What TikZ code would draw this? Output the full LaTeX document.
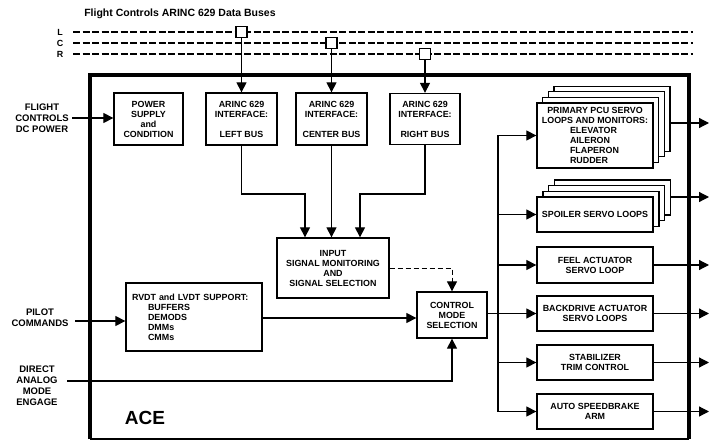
\documentclass[tikz,border=0pt]{standalone}
\usepackage{fontspec}
\setmainfont{Liberation Sans}
\usetikzlibrary{arrows.meta}
\newcommand\boxfont{\fontsize{8.9}{10}\selectfont\bfseries}
\newcommand\sidefont{\fontsize{9.5}{11}\selectfont\bfseries}
\newcommand\titlefont{\fontsize{10.5}{12}\selectfont\bfseries}
\begin{document}
\begin{tikzpicture}[x=1pt,y=-1pt,
  box/.style={draw,line width=1.3pt,fill=white,inner sep=2pt,align=center,font=\boxfont},
  layer/.style={draw,line width=1.3pt,fill=white,inner sep=0pt},
  sq/.style={draw,line width=1.5pt,fill=white,minimum size=11pt,inner sep=0pt},
  side/.style={align=center,font=\sidefont,inner sep=1pt},
  bus/.style={line width=1.9pt,dash pattern=on 7pt off 2.5pt},
  conn/.style={line width=1.2pt},
  arr/.style={conn,-{Triangle[length=10pt,width=10pt]}},
  dsh/.style={line width=0.9pt,dash pattern=on 5pt off 3pt,-{Triangle[length=10pt,width=10pt]}}]
\useasboundingbox (0,0) rectangle (709,441);

% title and buses
\node[font=\titlefont] (title) at (180,14) {Flight Controls ARINC 629 Data Buses};
\node[font=\boxfont] (labL) at (60,32) {L};
\node[font=\boxfont] (labC) at (60,43) {C};
\node[font=\boxfont] (labR) at (60,54) {R};
\coordinate (bs) at (73,0);
\coordinate (be) at (693,0);
\draw[bus] (labL -| bs) -- (labL -| be);
\draw[bus] (labC -| bs) -- (labC -| be);
\draw[bus] (labR -| bs) -- (labR -| be);

% ACE frame
\draw[line width=4pt] (90,439) -- (90,75) -- (689,75) -- (689,439);
\draw[line width=1.2pt] (90,439) -- (689,439);
\node[font=\fontsize{19}{22}\selectfont\bfseries] (ace) at (145,418) {ACE};

% top row
\node[box,minimum width=69pt,minimum height=52pt] (pwr) at (148.5,119) {POWER\\SUPPLY\\and\\CONDITION};
\node[box,minimum width=71pt,minimum height=52pt] (ifL) at (241.5,119) {ARINC 629\\INTERFACE:\\[10pt]LEFT BUS};
\node[box,minimum width=71pt,minimum height=52pt] (ifC) at (331.5,119) {ARINC 629\\INTERFACE:\\[10pt]CENTER BUS};
\node[box,minimum width=70pt,minimum height=51pt] (ifR) at (425,119) {ARINC 629\\INTERFACE:\\[10pt]RIGHT BUS};

% bus couplers
\node[sq] (sqL) at (ifL.north |- labL) {};
\node[sq] (sqC) at (ifC.north |- labC) {};
\node[sq] (sqR) at (ifR.north |- labR) {};
\draw[arr] (sqL.south) -- (ifL.north);
\draw[arr] (sqC.south) -- (ifC.north);
\draw[arr] (sqR.south) -- (ifR.north);

% input monitoring
\node[box,minimum width=112pt,minimum height=60pt] (inp) at (333,268) {INPUT\\SIGNAL MONITORING\\AND\\SIGNAL SELECTION};
\coordinate (jy) at (0,194);
\draw[arr] (ifL.south) -- (ifL.south |- jy) -| ([xshift=-28pt]inp.north);
\draw[arr] (ifC.south) -- (ifC.south |- inp.north);
\draw[arr] (ifR.south) -- (ifR.south |- jy) -| ([xshift=27pt]inp.north);

% control mode selection
\node[box,minimum width=70pt,minimum height=46pt] (ctl) at (452,315) {CONTROL\\MODE\\SELECTION};
\draw[dsh] (inp.east) -| (ctl.north);

% RVDT
\node[box,minimum width=136pt,minimum height=68pt,text width=124pt,inner sep=6pt,align=left] (rvdt) at (194,317)
  {RVDT and LVDT SUPPORT:\\\hspace*{16pt}BUFFERS\\\hspace*{16pt}DEMODS\\\hspace*{16pt}DMMs\\\hspace*{16pt}CMMs};
\coordinate (ry) at (0,318);
\draw[arr] (rvdt.east |- ry) -- (ctl.west |- ry);

% left inputs
\node[side] (fcdc) at (42,118) {FLIGHT\\CONTROLS\\DC POWER};
\node[side] (pilot) at (40,318) {PILOT\\COMMANDS};
\node[side] (direct) at (37,385.5) {DIRECT\\ANALOG\\MODE\\ENGAGE};
\coordinate (fcS) at (72,118);
\coordinate (piS) at (75,321);
\coordinate (daS) at (67,381);
\draw[arr] (fcS) -- (pwr.west |- fcS);
\draw[arr] (piS) -- (rvdt.west |- piS);
\draw[arr] (daS) -| (ctl.south);

% right column
\foreach \k in {3,2,1}
  \node[layer,minimum width=116pt,minimum height=65pt] (pri\k) at ({595+5.7*\k},{135.5-5.6*\k}) {};
\node[box,minimum width=116pt,minimum height=65pt] (pri) at (595,135.5)
  {PRIMARY PCU SERVO\\LOOPS AND MONITORS:\\\makebox[50pt][l]{ELEVATOR}\\\makebox[50pt][l]{AILERON}\\\makebox[50pt][l]{FLAPERON}\\\makebox[50pt][l]{RUDDER}};
\foreach \k in {3,2,1}
  \node[layer,minimum width=116pt,minimum height=35pt] (spo\k) at ({595+5.9*\k},{214.5-5.7*\k}) {};
\node[box,minimum width=116pt,minimum height=35pt] (spo) at (595,214.5) {SPOILER SERVO LOOPS};
\node[box,minimum width=116pt,minimum height=36pt] (feel) at (595,265) {FEEL ACTUATOR\\SERVO LOOP};
\node[box,minimum width=116pt,minimum height=35pt] (bd) at (595,313.5) {BACKDRIVE ACTUATOR\\SERVO LOOPS};
\node[box,minimum width=116pt,minimum height=35pt] (stab) at (595,362.5) {STABILIZER\\TRIM CONTROL};
\node[box,minimum width=116pt,minimum height=35pt] (asb) at (595,411.5) {AUTO SPEEDBRAKE\\ARM};

\coordinate (vx) at (498,0);
\draw[conn] (pri.west -| vx) -- (asb.west -| vx);
\draw[conn] (ctl.east |- bd.west) -- (bd.west -| vx);
\foreach \n in {pri,spo,feel,bd,stab,asb}
  \draw[arr] (\n.west -| vx) -- (\n.west);

% outputs
\coordinate (rx) at (709,0);
\coordinate (po) at (0,123);
\coordinate (so) at (0,197);
\draw[arr] (pri3.east |- po) -- (rx |- po);
\draw[arr] (spo3.east |- so) -- (rx |- so);
\foreach \n in {feel,bd,stab,asb}
  \draw[arr] (\n.east) -- (\n.east -| rx);
\end{tikzpicture}
\end{document}
